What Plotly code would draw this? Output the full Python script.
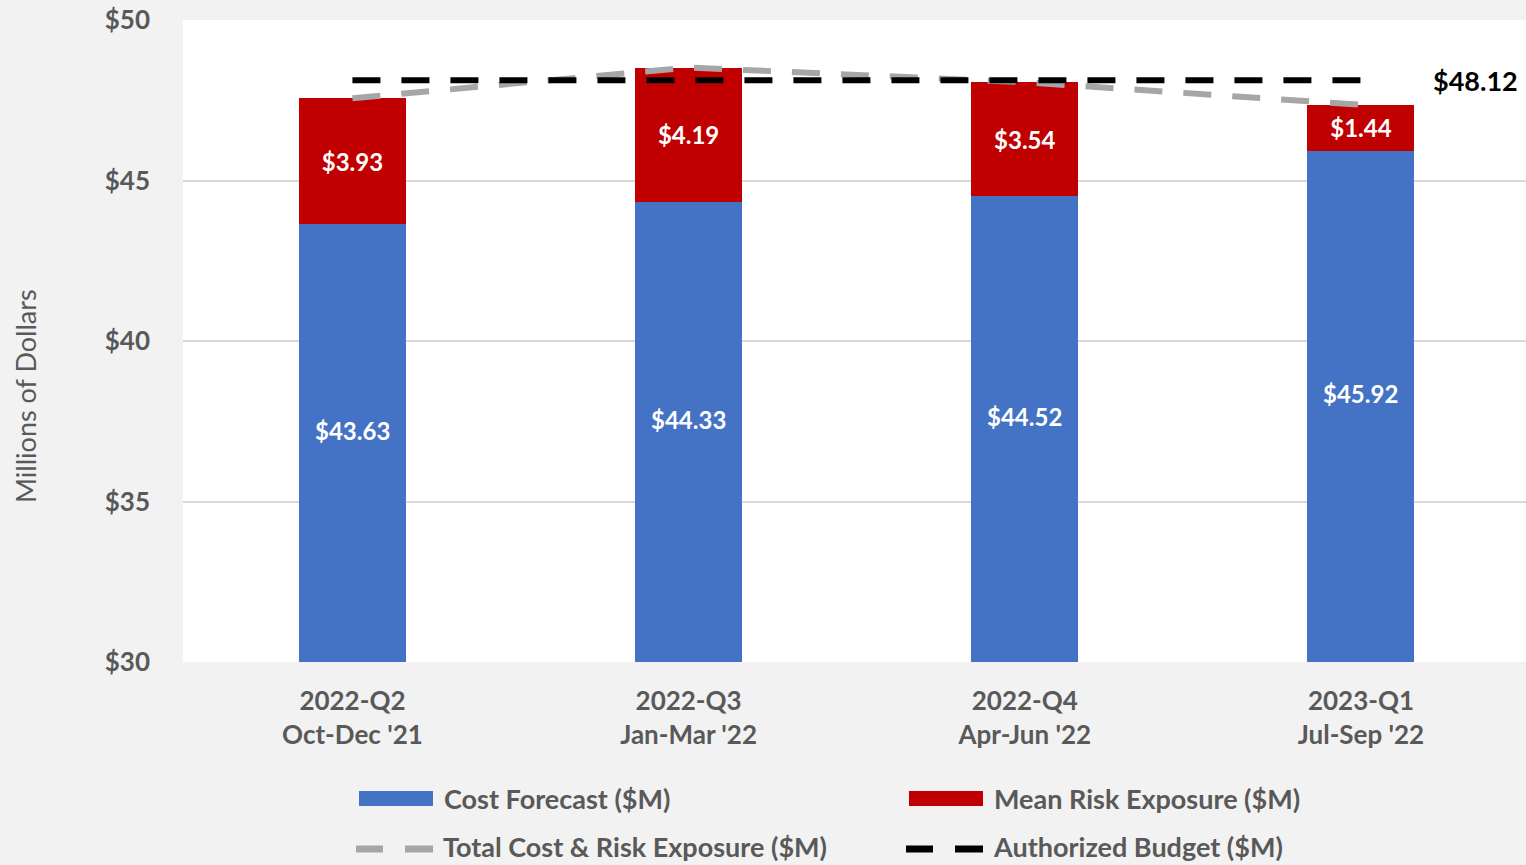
import plotly.graph_objects as go

# ---- data ----
quarters = ["2022-Q2", "2022-Q3", "2022-Q4", "2023-Q1"]
periods = ["Oct-Dec '21", "Jan-Mar '22", "Apr-Jun '22", "Jul-Sep '22"]
cost_forecast = [43.63, 44.33, 44.52, 45.92]
mean_risk = [3.93, 4.19, 3.54, 1.44]
authorized_budget = [48.12, 48.12, 48.12, 48.12]
y_ticks = [30, 35, 40, 45, 50]

total_cost_risk = [round(c + r, 2) for c, r in zip(cost_forecast, mean_risk)]
xpos = list(range(len(quarters)))
ticktext = [f"{q}<br>{p}" for q, p in zip(quarters, periods)]

W, H = 1526, 865
L, R, T, B = 183, 0, 20, 203
PW, PH = W - L - R, H - T - B
FONT = "Lato"
GREY = "#595959"
YMIN, YMAX = 30, 50


def px_x(px):
    return (px - L) / PW


def px_y(py):
    return (H - B - py) / PH


fig = go.Figure()

fig.add_trace(go.Bar(
    x=xpos, y=cost_forecast, name="Cost Forecast ($M)",
    marker=dict(color="#4472c4", line=dict(width=0)),
    width=0.318, textposition="none", hoverinfo="y",
))
fig.add_trace(go.Bar(
    x=xpos, y=mean_risk, name="Mean Risk Exposure ($M)",
    marker=dict(color="#c00000", line=dict(width=0)),
    width=0.318,
    texttemplate="$%{y:.2f}", textposition="inside", insidetextanchor="middle",
    textangle=0,
    textfont=dict(family=FONT, size=24, color="white", weight="bold"),
    insidetextfont=dict(family=FONT, size=24, color="white", weight="bold"),
))
fig.add_trace(go.Scatter(
    x=xpos, y=total_cost_risk, mode="lines", name="Total Cost & Risk Exposure ($M)",
    line=dict(color="#a6a6a6", width=6, dash="28px,21px"),
))
fig.add_trace(go.Scatter(
    x=xpos, y=authorized_budget, mode="lines", name="Authorized Budget ($M)",
    line=dict(color="black", width=6, dash="28px,21px"),
))

annotations = []
# blue bar labels at middle of visible part
for i, c in enumerate(cost_forecast):
    annotations.append(dict(
        x=i, y=(YMIN + c) / 2 + 0.4, xref="x", yref="y", text=f"${c:.2f}",
        showarrow=False, font=dict(family=FONT, size=24, color="white", weight="bold"),
    ))
# budget value label
annotations.append(dict(
    x=px_x(1431), y=authorized_budget[-1], xref="paper", yref="y",
    text=f"${authorized_budget[-1]:.2f}", xanchor="left", showarrow=False,
    font=dict(family=FONT, size=27, color="black", weight="bold"),
))
# y-axis title
annotations.append(dict(
    x=px_x(25), y=px_y(396), xref="paper", yref="paper", text="Millions of Dollars",
    textangle=-90, xanchor="center", yanchor="middle", showarrow=False,
    font=dict(family=FONT, size=27, color=GREY),
))

# custom legend
shapes = []
leg_items = [
    ("rect", "#4472c4", 359, 433, 798.5, "Cost Forecast ($M)", 442),
    ("rect", "#c00000", 909, 983, 798.5, "Mean Risk Exposure ($M)", 992),
    ("dash", "#a6a6a6", 356, 433, 849, "Total Cost & Risk Exposure ($M)", 442),
    ("dash", "black", 906, 983, 849, "Authorized Budget ($M)", 992),
]
for kind, col, x0, x1, yc, label, tx in leg_items:
    if kind == "rect":
        shapes.append(dict(type="rect", xref="paper", yref="paper",
                           x0=px_x(x0), x1=px_x(x1), y0=px_y(yc + 7.5), y1=px_y(yc - 7.5),
                           fillcolor=col, line=dict(width=0)))
        annotations.append(dict(
            x=px_x(tx), y=px_y(yc), xref="paper", yref="paper", text=label,
            xanchor="left", yanchor="middle", showarrow=False,
            font=dict(family=FONT, size=27, color=GREY, weight="bold"),
        ))
    else:
        for a, b in [(x0, x0 + 27), (x1 - 28, x1)]:
            shapes.append(dict(type="line", xref="paper", yref="paper",
                               x0=px_x(a), x1=px_x(b), y0=px_y(yc), y1=px_y(yc),
                               line=dict(color=col, width=7)))
        annotations.append(dict(
            x=px_x(tx), y=px_y(864), xref="paper", yref="paper", text=label,
            xanchor="left", yanchor="bottom", showarrow=False, borderpad=0,
            font=dict(family=FONT, size=27, color=GREY, weight="bold"),
        ))

fig.update_layout(
    width=W, height=H,
    margin=dict(l=L, r=R, t=T, b=B, pad=0),
    paper_bgcolor="#f2f2f2", plot_bgcolor="white",
    barmode="stack", showlegend=False,
    font=dict(family=FONT, color=GREY),
    shapes=shapes, annotations=annotations,
    xaxis=dict(
        range=[-0.504, 3.491], tickmode="array", tickvals=xpos, ticktext=ticktext,
        showgrid=False, zeroline=False, showline=False, ticks="",
        tickfont=dict(family=FONT, size=26, color=GREY, weight="bold"),
        ticklabelstandoff=21,
    ),
    yaxis=dict(
        range=[YMIN, YMAX], tickmode="array", tickvals=y_ticks,
        ticktext=[f"${v}" for v in y_ticks],
        showgrid=True, gridcolor="#d9d9d9", gridwidth=2, zeroline=False, showline=False,
        ticks="", tickfont=dict(family=FONT, size=26, color=GREY, weight="bold"),
        ticklabelstandoff=32,
    ),
)

fig.write_html(
    "out.html",
    config={"displayModeBar": False},
    post_script="document.body.style.margin='0';document.body.style.background='#f2f2f2';",
)
